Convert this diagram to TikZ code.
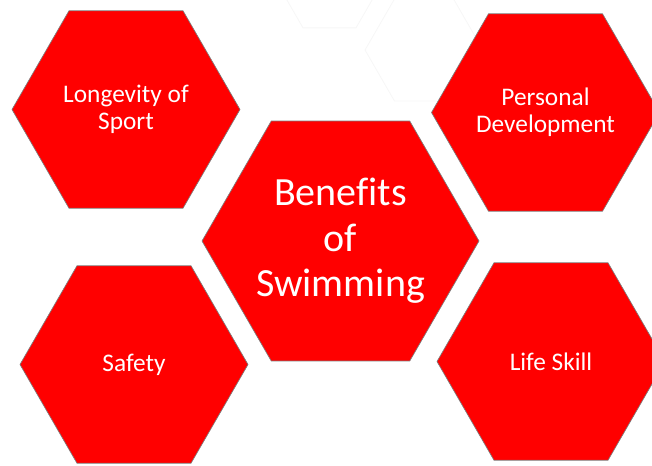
\documentclass[tikz,border=0pt]{standalone}
\usepackage{fontspec}
\setmainfont{Carlito}[Ligatures=NoCommon]
\usepackage{xcolor}
\usepackage{tikz}
\usetikzlibrary{shapes.geometric, positioning}
\definecolor{HexRed}{RGB}{255,0,0}
\definecolor{HexEdge}{RGB}{125,125,125}
\definecolor{GhostLine}{RGB}{247,247,247}
\tikzset{
    hexnode/.style={
        regular polygon, regular polygon sides=6,
        draw=HexEdge, line width=0.5pt, fill=HexRed,
        inner sep=0pt, outer sep=0pt,
        text=white, align=center
    },
    ghosthex/.style={
        regular polygon, regular polygon sides=6,
        draw=GhostLine, line width=0.6pt, fill=white,
        inner sep=0pt, outer sep=0pt
    }
}

\begin{document}
\begin{tikzpicture}[
            x=0.75pt, y=-0.75pt,
            % Kiểu cho lục giác nhỏ và lục giác giữa
            smallhex/.style={
                hexnode,
                minimum size=171pt,            % Đường kính ngoại tiếp
                font=\fontsize{19}{20}\selectfont
            },
            bighex/.style={
                hexnode,
                minimum size=207.75pt,
                font=\fontsize{30}{34}\selectfont
            }
        ]

            \useasboundingbox (0,0) rectangle (652,466);
            \clip (0,0) rectangle (652,466);

            % --- LỤC GIÁC MỜ PHÍA TRÊN ---
            \node[ghosthex, minimum size=79.5pt] (g1) at (329.5,-18) {};
            \node[ghosthex, minimum size=88.5pt] (g2) at (424,50) {};

            % --- LỤC GIÁC ĐỎ ---
            \node[bighex] (C) at (340.5,241) {Benefits\\of\\Swimming};

            \node[smallhex] (h1) at (126,109.5) {Longevity of\\Sport};
            \node[smallhex] (h2) at (545.5,112.5) {Personal\\Development};
            \node[smallhex] (h3) at (134,364.5) {Safety};
            \node[smallhex] (h4) at (551,361.5) {Life Skill};

        \end{tikzpicture}
\end{document}
